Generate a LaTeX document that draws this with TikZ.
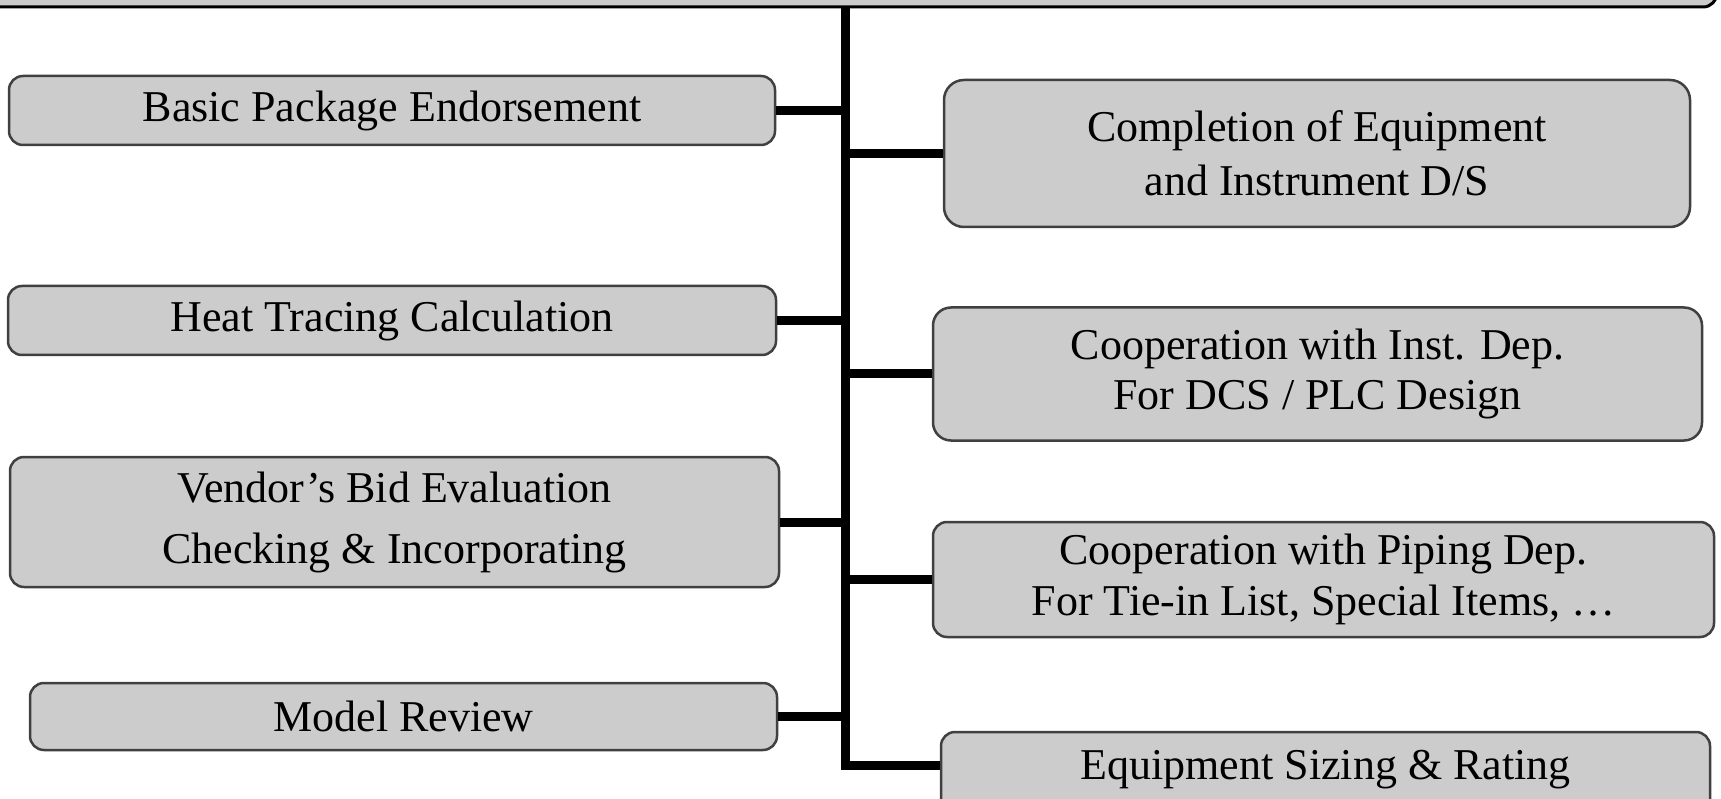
\documentclass[tikz,border=0pt]{standalone}
\usepackage{fontspec}
\setmainfont{Liberation Serif}
\begin{document}
\begin{tikzpicture}[x=1pt,y=-1pt,
  box/.style={draw=black!75, line width=2.5pt, fill=black!20, rounded corners=14pt,
    align=center, inner sep=0pt, font=\fontsize{44}{54}\selectfont},
  link/.style={line width=9pt}]
\useasboundingbox (0,0) rectangle (1721,799);
\clip (0,0) rectangle (1721,799);
\fill[white] (0,0) rectangle (1721,799);
% top (cut-off) box
\draw[line width=3pt, fill=black!20, rounded corners=14pt] (-40,-60) rectangle (1717,7);
% left boxes
\node[box, minimum width=766pt, minimum height=69pt] (l1) at (392,110.5) {Basic Package Endorsement};
\node[box, minimum width=768pt, minimum height=69pt] (l2) at (392,320.5) {Heat Tracing Calculation};
\node[box, minimum width=769pt, minimum height=130pt, font=\fontsize{44}{61}\selectfont] (l3) at (394.5,522) {Vendor’s Bid Evaluation\\Checking \& Incorporating};
\node[box, minimum width=747pt, minimum height=67pt] (l4) at (403.5,716.5) {Model Review};
% right boxes
\node[box, minimum width=746pt, minimum height=147pt, rounded corners=20pt] (r1) at (1317,153.5) {Completion of Equipment\\and Instrument D/S};
\node[box, minimum width=769pt, minimum height=133pt, rounded corners=18pt, font=\fontsize{44}{50}\selectfont] (r2) at (1317.5,374) {Cooperation with Inst. Dep.\\For DCS / PLC Design};
\node[box, minimum width=781pt, minimum height=115pt, font=\fontsize{44}{51}\selectfont] (r3) at (1323.5,579.5) {Cooperation with Piping Dep.\\For Tie-in List, Special Items, …};
\node[box, minimum width=769pt, minimum height=90pt] (r4) at (1325.5,777) {\raisebox{24pt}{Equipment Sizing \& Rating}};
\coordinate (r4b) at ([yshift=12pt]r4.west);
% trunk
\coordinate (ttop) at (845,7);
\coordinate (tbot) at (845,769.5);
\draw[link] (ttop) -- (tbot);
% branches
\draw[link] (l1.east) -- (l1.east -| ttop);
\draw[link] (l2.east) -- (l2.east -| ttop);
\draw[link] (l3.east) -- (l3.east -| ttop);
\draw[link] (l4.east) -- (l4.east -| ttop);
\draw[link] (r1.west -| ttop) -- (r1.west);
\draw[link] (r2.west -| ttop) -- (r2.west);
\draw[link] (r3.west -| ttop) -- (r3.west);
\draw[link] (r4b -| ttop) -- (r4b);
\end{tikzpicture}
\end{document}
